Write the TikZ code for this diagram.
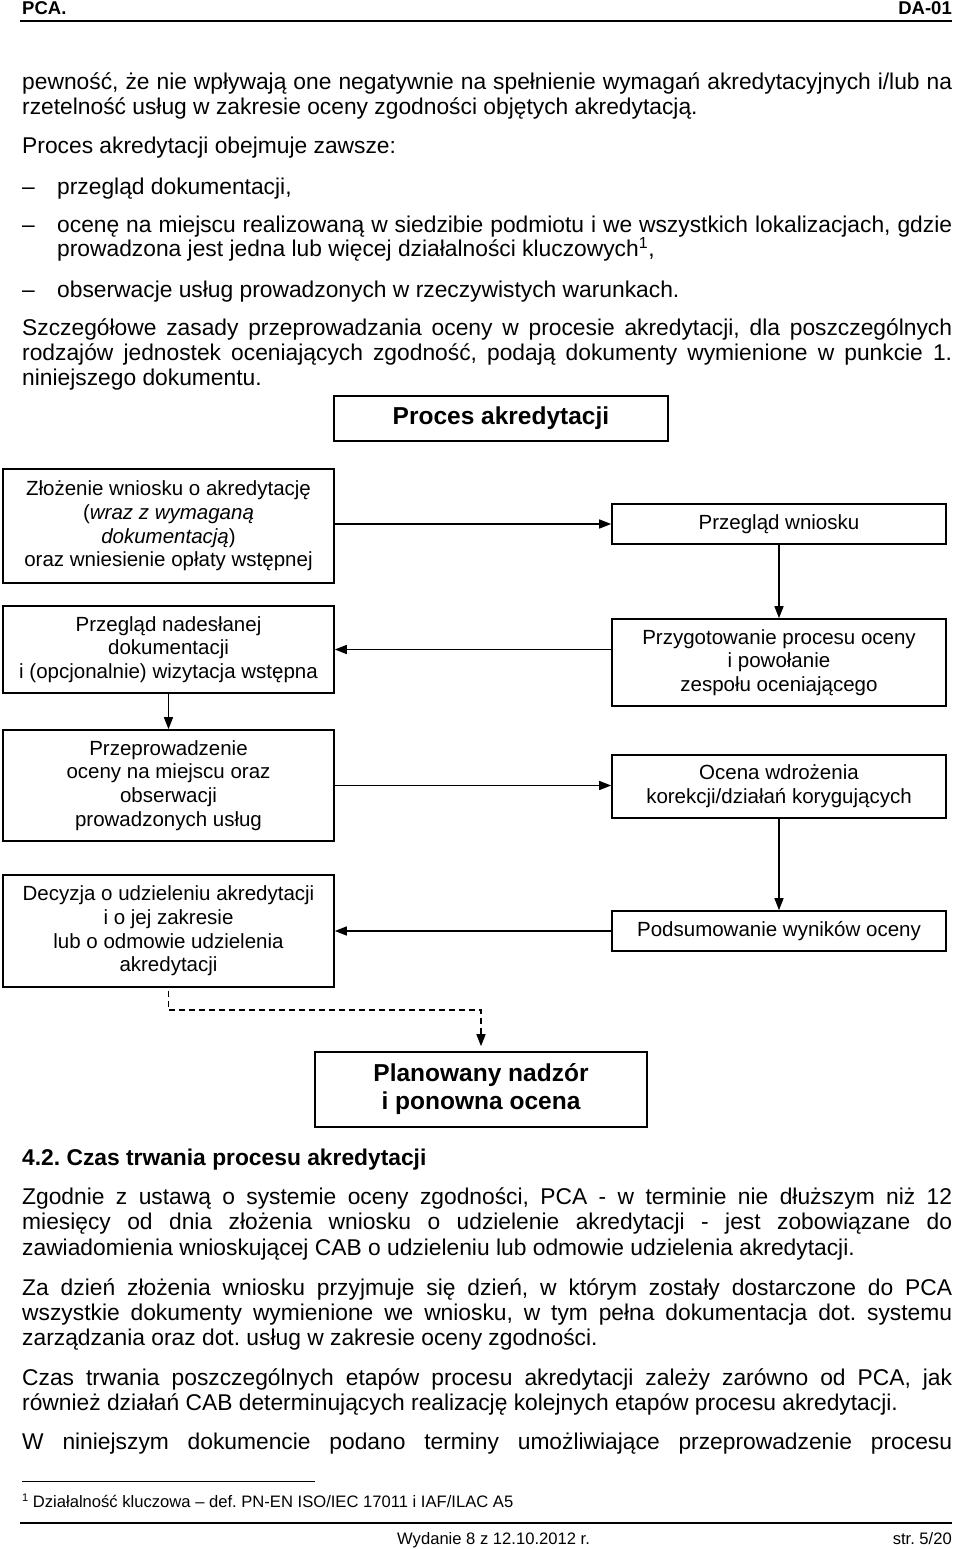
\documentclass[tikz,border=0pt]{standalone}
\usepackage{fontspec}
\setmainfont{Liberation Sans}
\usetikzlibrary{arrows.meta}
\frenchspacing
\newcommand{\myBody}{\fontsize{22.8}{25}\selectfont}
\newcommand{\myBox}{\fontsize{20.5}{23.7}\selectfont}
\newcommand{\myBig}{\fontsize{24.5}{28}\selectfont\bfseries}
\newcommand{\mySmall}{\fontsize{16.6}{19}\selectfont}
\newcommand{\myHead}{\fontsize{18.5}{20}\selectfont\bfseries}
\newcommand{\jus}[2]{\makebox[#1][s]{#2}}
\begin{document}
\frenchspacing
\begin{tikzpicture}[x=1pt,y=-1pt,
  txt/.style={anchor=base west, inner sep=0pt, font=\myBody},
  pbox/.style={draw, line width=1.6pt, inner sep=0pt, align=center, font=\myBox},
  arr/.style={line width=1.4pt, -{Triangle[length=12pt,width=9pt]}},
  darr/.style={line width=1.4pt, dash pattern=on 6pt off 4pt, -{Triangle[length=12pt,width=9pt]}},
  rule/.style={line width=1.3pt}]
\useasboundingbox (0,0) rectangle (960,1549);
\fill[white] (0,0) rectangle (960,1549);

% header
\node[txt, font=\myHead] (hl) at (22,15) {PCA.};
\node[anchor=base east, inner sep=0pt, font=\myHead] (hr) at (952,15) {DA-01};
\coordinate (hr1) at (20,21);
\coordinate (hr2) at (952,21);
\draw[rule] (hr1) -- (hr2);

% body text top
\node[txt] (t1) at (22,90) {\jus{930pt}{pewność, że nie wpływają one negatywnie na spełnienie wymagań akredytacyjnych i/lub na}};
\node[txt] (t2) at (22,115) {rzetelność usług w zakresie oceny zgodności objętych akredytacją.};
\node[txt] (t3) at (22,154) {Proces akredytacji obejmuje zawsze:};
\node[txt] (d1) at (22,194) {–};
\node[txt] (t4) at (57,194) {przegląd dokumentacji,};
\node[txt] (d2) at (22,232) {–};
\node[txt] (t5) at (57,232) {\jus{895pt}{ocenę na miejscu realizowaną w siedzibie podmiotu i we wszystkich lokalizacjach, gdzie}};
\node[txt] (t6) at (57,256) {prowadzona jest jedna lub więcej działalności kluczowych\textsuperscript{1},};
\node[txt] (d3) at (22,297) {–};
\node[txt] (t7) at (57,297) {obserwacje usług prowadzonych w rzeczywistych warunkach.};
\node[txt] (t8) at (22,335) {\jus{930pt}{Szczegółowe zasady przeprowadzania oceny w procesie akredytacji, dla poszczególnych}};
\node[txt] (t9) at (22,360) {\jus{930pt}{rodzajów jednostek oceniających zgodność, podają dokumenty wymienione w punkcie 1.}};
\node[txt] (t10) at (22,385) {niniejszego dokumentu.};

% diagram
\node[pbox, font=\myBig, minimum width=334pt, minimum height=45pt] (title) at (501,418.5) {Proces akredytacji};

\node[pbox, minimum width=331pt, minimum height=114pt] (b1) at (168.5,526)
  {Złożenie wniosku o akredytację\\(\textit{wraz z wymaganą}\\\textit{dokumentacją})\\oraz wniesienie opłaty wstępnej};
\node[pbox, minimum width=334pt, minimum height=40pt] (b2) at (779,524) {Przegląd wniosku};
\node[pbox, minimum width=331pt, minimum height=87pt] (b3) at (168.5,649.5)
  {Przegląd nadesłanej\\dokumentacji\\i (opcjonalnie) wizytacja wstępna};
\node[pbox, minimum width=334pt, minimum height=87pt] (b4) at (779,662.5)
  {Przygotowanie procesu oceny\\i powołanie\\zespołu oceniającego};
\node[pbox, minimum width=331pt, minimum height=111pt] (b5) at (168.5,785.5)
  {Przeprowadzenie\\oceny na miejscu oraz\\obserwacji\\prowadzonych usług};
\node[pbox, minimum width=334pt, minimum height=63pt] (b6) at (779,786.5)
  {Ocena wdrożenia\\korekcji/działań korygujących};
\node[pbox, minimum width=334pt, minimum height=40pt] (b7) at (779,931) {Podsumowanie wyników oceny};
\node[pbox, minimum width=331pt, minimum height=112pt] (b8) at (168.5,931)
  {Decyzja o udzieleniu akredytacji\\i o jej zakresie\\lub o odmowie udzielenia\\akredytacji};
\node[pbox, font=\myBig, minimum width=332pt, minimum height=75pt] (b9) at (481,1089.5)
  {Planowany nadzór\\i ponowna ocena};

\draw[arr] (b1.east |- b2.west) -- (b2.west);
\draw[arr] (b2.south) -- (b4.north);
\draw[arr] (b3.east -| b4.west) -- (b3.east);
\draw[arr] (b3.south) -- (b5.north);
\draw[arr] (b5.east) -- (b5.east -| b6.west);
\draw[arr] (b6.south) -- (b7.north);
\draw[arr] (b7.west) -- (b7.west -| b8.east);
\coordinate (dk) at (168.5,1010);
\draw[darr, shorten >=5pt, shorten <=3pt] (b8.south) -- (dk) -| (b9.north);

% section 4.2
\node[txt, font=\myBody\bfseries] (h2) at (22,1165) {4.2. Czas trwania procesu akredytacji};
\node[txt] (q1) at (22,1204) {\jus{930pt}{Zgodnie z ustawą o systemie oceny zgodności, PCA - w terminie nie dłuższym niż 12}};
\node[txt] (q2) at (22,1229) {\jus{930pt}{miesięcy od dnia złożenia wniosku o udzielenie akredytacji - jest zobowiązane do}};
\node[txt] (q3) at (22,1255) {zawiadomienia wnioskującej CAB o udzieleniu lub odmowie udzielenia akredytacji.};
\node[txt] (r1) at (22,1295) {\jus{930pt}{Za dzień złożenia wniosku przyjmuje się dzień, w którym zostały dostarczone do PCA}};
\node[txt] (r2) at (22,1320) {\jus{930pt}{wszystkie dokumenty wymienione we wniosku, w tym pełna dokumentacja dot. systemu}};
\node[txt] (r3) at (22,1345) {zarządzania oraz dot. usług w zakresie oceny zgodności.};
\node[txt] (s1) at (22,1385) {\jus{930pt}{Czas trwania poszczególnych etapów procesu akredytacji zależy zarówno od PCA, jak}};
\node[txt] (s2) at (22,1410) {również działań CAB determinujących realizację kolejnych etapów procesu akredytacji.};
\node[txt] (u1) at (22,1449) {\jus{930pt}{W niniejszym dokumencie podano terminy umożliwiające przeprowadzenie procesu}};

% footnote
\coordinate (f1) at (22,1481);
\coordinate (f2) at (315,1481);
\draw[line width=1pt] (f1) -- (f2);
\node[txt, font=\mySmall] (fn) at (22,1507) {{\fontsize{11}{12}\selectfont\raisebox{6pt}{1}} Działalność kluczowa – def. PN-EN ISO/IEC 17011 i IAF/ILAC A5};

% footer
\coordinate (g1) at (20,1523);
\coordinate (g2) at (952,1523);
\draw[rule] (g1) -- (g2);
\node[txt, font=\mySmall] (ft) at (397,1544) {Wydanie 8 z 12.10.2012 r.};
\node[anchor=base east, inner sep=0pt, font=\mySmall] (pg) at (952,1544) {str. 5/20};
\end{tikzpicture}
\end{document}
